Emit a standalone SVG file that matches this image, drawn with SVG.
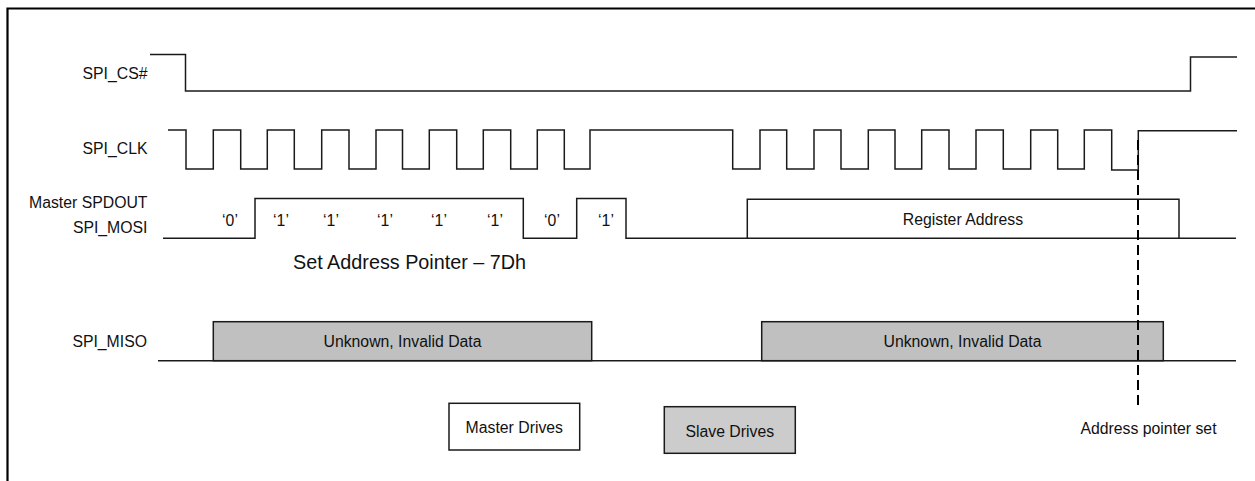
<svg xmlns="http://www.w3.org/2000/svg" width="1255" height="481" viewBox="0 0 1255 481">
<style>
text{font-family:"Liberation Sans",Arial,sans-serif;font-size:15.8px;fill:#111}
.lbl{text-anchor:end}
.mid{text-anchor:middle}
.sig{fill:none;stroke:#1a1a1a;stroke-width:1.5}
.frame{fill:none;stroke:#000;stroke-width:2.2}
.gray{fill:#c0c0c0;stroke:#1a1a1a;stroke-width:1.5}
.white{fill:#fff;stroke:#1a1a1a;stroke-width:1.5}
.dash{fill:none;stroke:#000;stroke-width:2;stroke-dasharray:10 5}
</style>
<rect width="1255" height="481" fill="#fff"/>
<path class="frame" d="M7.5,481 V8.5 H1255"/>
<g id="labels">
<text class="lbl" x="147.5" y="79">SPI_CS#</text>
<text class="lbl" x="147.5" y="154">SPI_CLK</text>
<text class="lbl" x="147.5" y="208.3">Master SPDOUT</text>
<text class="lbl" x="147.5" y="233.3">SPI_MOSI</text>
<text class="lbl" x="147" y="347">SPI_MISO</text>
</g>
<g id="miso-data-1">
<rect class="gray" x="213.3" y="321.7" width="378.4" height="39"/>
<text class="mid" x="402.5" y="346.5">Unknown, Invalid Data</text>
</g>
<g id="miso-data-2">
<rect class="gray" x="761.7" y="321.7" width="401.6" height="39"/>
<text class="mid" x="962.5" y="346.5">Unknown, Invalid Data</text>
</g>
<g id="connectors">
<path id="cs" class="sig" d="M150,54.5 H185.5 V91 H1190.5 V57 H1237"/>
<path id="clk" class="sig" d="M168,130 H186 V169 H213.3 V130 H240.7 V169 H267.3 V130 H294.3 V169 H321.7 V130 H349 V169 H376 V130 H402.5 V169 H429.3 V130 H456.7 V169 H483.3 V130 H510.7 V169 H537.3 V130 H564.3 V169 H590 V130 H732.7 V169 H760 V130 H786.7 V169 H814 V130 H841 V169 H868.3 V130 H895 V169 H921.7 V130 H949 V169 H976 V130 H1003.3 V169 H1030.7 V130 H1057.7 V169 H1084.3 V130 H1111.7 V170 H1138.3 V130.7 H1237"/>
<path id="mosi" class="sig" d="M163,238.3 H255 V198.5 H523.3 V238.3 H576.7 V198.5 H626 V238.3 H1236"/>
<path id="miso" class="sig" d="M158,360.7 H1236"/>
<path id="marker" class="dash" d="M1138,140 V410"/>
</g>
<g id="mosi-bits">
<text class="mid" x="230" y="226">‘0’</text>
<text class="mid" x="281" y="226">‘1’</text>
<text class="mid" x="331" y="226">‘1’</text>
<text class="mid" x="385" y="226">‘1’</text>
<text class="mid" x="439" y="226">‘1’</text>
<text class="mid" x="495" y="226">‘1’</text>
<text class="mid" x="552" y="226">‘0’</text>
<text class="mid" x="606" y="226">‘1’</text>
</g>
<g id="register-address">
<path class="sig" d="M747.3,238.3 V199.3 H1179 V238.3"/>
<text class="mid" x="963" y="225">Register Address</text>
</g>
<text id="set-address" x="293" y="269" style="font-size:19.8px">Set Address Pointer – 7Dh</text>
<g id="legend-master">
<rect class="white" x="449" y="403.3" width="130.7" height="46.7"/>
<text class="mid" x="514.3" y="432.5">Master Drives</text>
</g>
<g id="legend-slave">
<rect class="gray" style="fill:#cccccc" x="664.3" y="406.7" width="131" height="46.6"/>
<text class="mid" x="729.8" y="436.5">Slave Drives</text>
</g>
<text id="addr-set" class="mid" x="1148.5" y="434">Address pointer set</text>
</svg>
